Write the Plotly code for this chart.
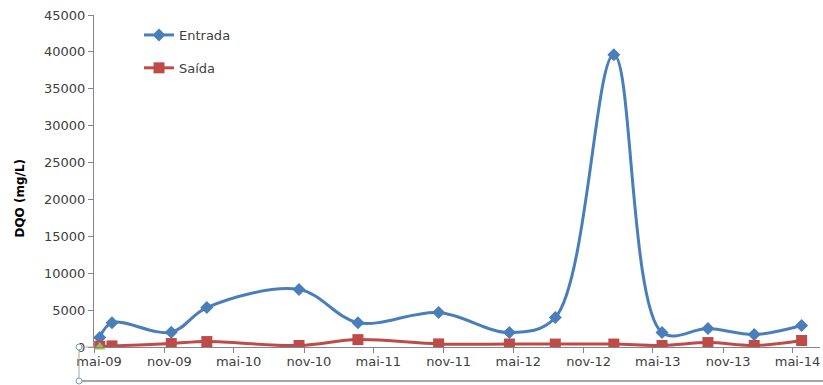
import plotly.graph_objects as go

dates = ["2009-05-16", "2009-06-17", "2009-11-19", "2010-02-20", "2010-10-19",
         "2011-03-22", "2011-10-19", "2012-04-21", "2012-08-19", "2013-01-19",
         "2013-05-25", "2013-09-22", "2014-01-21", "2014-05-25"]
entrada = [1300, 3300, 2000, 5350, 7800, 3300, 4670, 1960, 3990, 39600,
           1960, 2500, 1690, 2910]
saida = [100, 150, 470, 740, 200, 1000, 420, 400, 400, 400,
         200, 600, 200, 880]
extra_dates = ["2009-05-16"]
extra_vals = [0]

tick_dates = ["2009-05-01", "2009-11-01", "2010-05-01", "2010-11-01", "2011-05-01",
              "2011-11-01", "2012-05-01", "2012-11-01", "2013-05-01", "2013-11-01",
              "2014-05-01"]
tick_labels = ["mai-09", "nov-09", "mai-10", "nov-10", "mai-11", "nov-11",
               "mai-12", "nov-12", "mai-13", "nov-13", "mai-14"]
y_ticks = [0, 5000, 10000, 15000, 20000, 25000, 30000, 35000, 40000, 45000]
y_labels = [str(v) for v in y_ticks]

FONT = "DejaVu Sans"
TXT = "#404040"
AX = "#868686"

fig = go.Figure()
fig.add_trace(go.Scatter(
    x=dates, y=entrada, name="Entrada", mode="lines+markers",
    line=dict(color="#4A7EBB", width=3, shape="spline", smoothing=1.0),
    marker=dict(symbol="diamond", size=10, color="#4A7EBB"),
    legendgroup="a"))
fig.add_trace(go.Scatter(
    x=dates, y=saida, name="Saída", mode="lines+markers",
    line=dict(color="#BE4B48", width=3, shape="spline", smoothing=1.0),
    marker=dict(symbol="square", size=11, color="#BE4B48"),
    legendgroup="b"))
fig.add_trace(go.Scatter(
    x=extra_dates, y=extra_vals, name="", mode="markers",
    marker=dict(symbol="triangle-up", size=10, color="#9BBB59"),
    showlegend=False, cliponaxis=False))

fig.update_layout(
    width=823, height=385,
    margin=dict(l=94, r=3, t=15, b=38),
    paper_bgcolor="white", plot_bgcolor="white",
    font=dict(family=FONT, size=13, color=TXT),
    showlegend=True,
    legend=dict(x=0.062, y=0.985, xanchor="left", yanchor="top",
                traceorder="grouped", tracegroupgap=13,
                font=dict(family=FONT, size=13, color=TXT),
                bgcolor="rgba(0,0,0,0)"),
    xaxis=dict(type="date", range=["2009-05-01", "2014-07-12"],
               tickvals=tick_dates, ticktext=tick_labels,
               ticks="outside", ticklen=5, tickcolor=AX,
               ticklabelshift=5, ticklabelstandoff=-3,
               showline=True, linecolor=AX, linewidth=1,
               showgrid=False, zeroline=False,
               tickfont=dict(family=FONT, size=13, color=TXT)),
    yaxis=dict(range=[0, 45000], tickvals=y_ticks, ticktext=y_labels,
               ticks="outside", ticklen=5, tickcolor=AX,
               showline=True, linecolor=AX, linewidth=1,
               showgrid=False, zeroline=False,
               tickfont=dict(family=FONT, size=13, color=TXT)),
    annotations=[dict(text="<b>DQO (mg/L)</b>", textangle=-90,
                      xref="paper", yref="paper", x=-0.102, y=0.45,
                      xanchor="center", yanchor="middle",
                      showarrow=False,
                      font=dict(family=FONT, size=12, color="#000000"))],
)

# Selection box around horizontal axis (as seen in the reference)
sel = "#A6A6A6"
y0 = 0.0
y1 = -(381 - 347) / 332
xl = (79 - 94) / 726
xr = (823 - 94) / 726
fig.add_shape(type="line", xref="paper", yref="paper", x0=xl, x1=xr, y0=y1, y1=y1,
              line=dict(color=sel, width=2))
fig.add_shape(type="line", xref="paper", yref="paper", x0=xl, x1=xl, y0=y0, y1=y1,
              line=dict(color=sel, width=1))
fig.add_shape(type="line", xref="paper", yref="paper", x0=xl, x1=0, y0=y0, y1=y0,
              line=dict(color=sel, width=1))
r = 3
for (px, py) in [(79, 347), (79, 381)]:
    fig.add_shape(type="circle", xref="paper", yref="paper",
                  x0=(px - r - 94) / 726, x1=(px + r - 94) / 726,
                  y0=-(py + r - 347) / 332, y1=-(py - r - 347) / 332,
                  line=dict(color="#7F9DB9", width=1), fillcolor="white")

fig.write_html("out.html")
